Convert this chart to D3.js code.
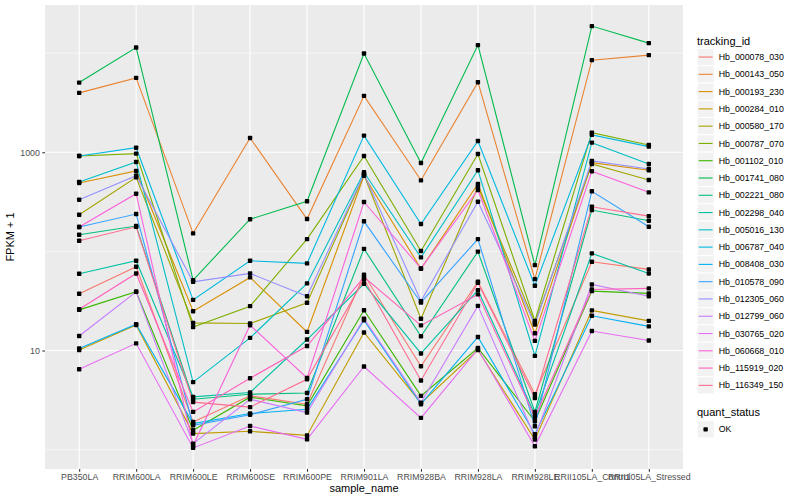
<!DOCTYPE html>
<html>
<head>
<meta charset="utf-8">
<script src="https://cdn.jsdelivr.net/npm/d3@7"></script>
<style>
  html, body { margin: 0; padding: 0; background: #ffffff; }
  svg text { font-family: "Liberation Sans", Arial, Helvetica, sans-serif; }
</style>
</head>
<body>
<svg id="chart" width="800" height="500"></svg>
<script>
// ---------- data ----------
const categories = ["PB350LA","RRIM600LA","RRIM600LE","RRIM600SE","RRIM600PE","RRIM901LA",
  "RRIM928BA","RRIM928LA","RRIM928LE","RRII105LA_Control","RRII105LA_Stressed"];

const trackingIds = ["Hb_000078_030","Hb_000143_050","Hb_000193_230","Hb_000284_010","Hb_000580_170",
  "Hb_000787_070","Hb_001102_010","Hb_001741_080","Hb_002221_080","Hb_002298_040","Hb_005016_130",
  "Hb_006787_040","Hb_008408_030","Hb_010578_090","Hb_012305_060","Hb_012799_060","Hb_030765_020",
  "Hb_060668_010","Hb_115919_020","Hb_116349_150"];

// FPKM + 1, one value per sample (same order as categories)
const hb_000078_030 = [37.3, 69.9, 1.90, 3.49, 2.87, 58.0, 6.94, 49.3, 3.62, 78.5, 65.8];
const hb_000143_050 = [3972, 5630, 152, 1394, 212, 3705, 521, 5093, 52.5, 8497, 9550];
const hb_000193_230 = [490, 647, 24.9, 54.6, 15.4, 580, 66.7, 478, 14.9, 785, 658];
const hb_000284_010 = [10.1, 18.1, 1.45, 1.53, 1.39, 15.2, 2.94, 10.1, 1.26, 25.4, 19.9];
const hb_000580_170 = [234, 559, 19.0, 18.7, 30.3, 590, 20.9, 446, 19.0, 762, 525];
const hb_000787_070 = [918, 968, 17.2, 28.0, 133, 918, 101, 961, 19.9, 1578, 1186];
const hb_001102_010 = [25.7, 39.1, 1.57, 3.38, 2.76, 25.5, 3.48, 10.6, 1.93, 39.7, 37.7];
const hb_001741_080 = [5047, 11400, 51.3, 211, 320, 9910, 780, 12050, 72.7, 18750, 12620];
const hb_002221_080 = [147, 180, 3.22, 3.62, 3.73, 106, 13.9, 99.5, 2.40, 261, 204];
const hb_002298_040 = [59.4, 80.4, 3.40, 3.77, 12.9, 47.1, 9.33, 40.6, 2.26, 95.4, 59.9];
const hb_005016_130 = [501, 798, 4.79, 13.4, 47.5, 628, 86.9, 658, 8.82, 1250, 762];
const hb_006787_040 = [918, 1112, 32.4, 80.4, 75.7, 1472, 189, 1300, 45.0, 1496, 1140];
const hb_008408_030 = [10.5, 18.4, 1.83, 2.31, 2.55, 20.2, 2.87, 13.7, 1.43, 22.4, 17.5];
const hb_010578_090 = [176, 238, 1.76, 2.25, 3.22, 201, 30.5, 133, 1.72, 404, 177];
const hb_012305_060 = [332, 580, 49.3, 59.9, 35.3, 604, 31.5, 317, 18.3, 817, 678];
const hb_012799_060 = [14.0, 39.1, 1.15, 3.22, 2.36, 20.9, 2.98, 28.2, 1.34, 46.4, 35.3];
const hb_030765_020 = [6.47, 11.8, 1.04, 1.73, 1.27, 6.89, 2.09, 10.3, 1.08, 15.7, 12.6];
const hb_060668_010 = [176, 382, 1.10, 18.0, 5.29, 315, 67.3, 416, 12.5, 643, 394];
const hb_115919_020 = [26.1, 59.9, 2.40, 5.25, 11.1, 55.0, 17.9, 36.8, 2.13, 41.3, 42.3];
const hb_116349_150 = [128, 177, 3.01, 2.68, 5.13, 52.1, 4.98, 48.2, 3.32, 282, 227];

const seriesValues = [hb_000078_030, hb_000143_050, hb_000193_230, hb_000284_010, hb_000580_170,
  hb_000787_070, hb_001102_010, hb_001741_080, hb_002221_080, hb_002298_040, hb_005016_130,
  hb_006787_040, hb_008408_030, hb_010578_090, hb_012305_060, hb_012799_060, hb_030765_020,
  hb_060668_010, hb_115919_020, hb_116349_150];

const yMajorTicks = [10, 1000];
const yMinorTicks = [1, 100, 10000];
const quantLevels = ["OK"];

// ---------- styles ----------
const palette = ["#F8766D","#EA8331","#D89000","#C09B00","#A3A500","#7CAE00","#39B600","#00BB4E",
  "#00BF7D","#00C1A3","#00BFC4","#00BAE0","#00B0F6","#35A2FF","#9590FF","#C77CFF","#E76BF3",
  "#FA62DB","#FF62BC","#FF6C91"];

const series = trackingIds.map((id, i) => ({
  id, color: palette[i],
  points: categories.map((c, j) => ({ cat: c, v: seriesValues[i][j] }))
}));

// ---------- layout ----------
const svg = d3.select("#chart");
const panel = { left: 45, right: 683, top: 5, bottom: 469 };

const x = d3.scalePoint().domain(categories).range([panel.left, panel.right]).padding(0.6);

const allVals = seriesValues.flat();
const lmin = Math.log10(d3.min(allVals)), lmax = Math.log10(d3.max(allVals));
const ex = (lmax - lmin) * 0.05;
const y = d3.scaleLog().domain([Math.pow(10, lmin - ex), Math.pow(10, lmax + ex)])
  .range([panel.bottom, panel.top]);

// panel background
svg.append("rect").attr("x", panel.left).attr("y", panel.top)
  .attr("width", panel.right - panel.left).attr("height", panel.bottom - panel.top)
  .attr("fill", "#EBEBEB");

const grid = svg.append("g");
grid.selectAll("line.minor").data(yMinorTicks).join("line")
  .attr("x1", panel.left).attr("x2", panel.right)
  .attr("y1", d => y(d)).attr("y2", d => y(d))
  .attr("stroke", "#ffffff").attr("stroke-width", 0.55);
grid.selectAll("line.majy").data(yMajorTicks).join("line")
  .attr("x1", panel.left).attr("x2", panel.right)
  .attr("y1", d => y(d)).attr("y2", d => y(d))
  .attr("stroke", "#ffffff").attr("stroke-width", 1.1);
grid.selectAll("line.majx").data(categories).join("line")
  .attr("x1", d => x(d)).attr("x2", d => x(d))
  .attr("y1", panel.top).attr("y2", panel.bottom)
  .attr("stroke", "#ffffff").attr("stroke-width", 1.1);

// lines
const line = d3.line().x(d => x(d.cat)).y(d => y(d.v));
svg.append("g").selectAll("path").data(series).join("path")
  .attr("d", d => line(d.points))
  .attr("fill", "none").attr("stroke", d => d.color).attr("stroke-width", 1.1);

// points
const pts = series.flatMap(s => s.points);
const ps = 4.4;
svg.append("g").selectAll("rect").data(pts).join("rect")
  .attr("x", d => x(d.cat) - ps / 2).attr("y", d => y(d.v) - ps / 2)
  .attr("width", ps).attr("height", ps).attr("rx", 0.8)
  .attr("fill", "#000000");

// axes
const xAxis = svg.append("g").attr("transform", `translate(0,${panel.bottom})`)
  .call(d3.axisBottom(x).tickSize(2.7).tickPadding(2.5));
xAxis.select(".domain").remove();
xAxis.selectAll(".tick line").attr("stroke", "#333333").attr("stroke-width", 1.07);
xAxis.selectAll(".tick text").attr("fill", "#4D4D4D").attr("font-size", "8.8px");

const yAxis = svg.append("g").attr("transform", `translate(${panel.left},0)`)
  .call(d3.axisLeft(y).tickValues(yMajorTicks).tickFormat(d3.format("d")).tickSize(2.7).tickPadding(2.5));
yAxis.select(".domain").remove();
yAxis.selectAll(".tick line").attr("stroke", "#333333").attr("stroke-width", 1.07);
yAxis.selectAll(".tick text").attr("fill", "#4D4D4D").attr("font-size", "8.8px");

svg.append("text").attr("x", (panel.left + panel.right) / 2).attr("y", 492)
  .attr("text-anchor", "middle").attr("font-size", "11px").attr("fill", "#000")
  .text("sample_name");
svg.append("text").attr("transform", `translate(14,${(panel.top + panel.bottom) / 2}) rotate(-90)`)
  .attr("text-anchor", "middle").attr("font-size", "11px").attr("fill", "#000")
  .text("FPKM + 1");

// legend: tracking_id
const lg = svg.append("g");
const lgx = 697, key = 17.28, firstKeyTop = 48.4;
lg.append("text").attr("x", lgx).attr("y", 44.5).attr("font-size", "11px").text("tracking_id");
const items = lg.selectAll("g.item").data(series).join("g")
  .attr("transform", (d, i) => `translate(${lgx},${firstKeyTop + i * key})`);
items.append("rect").attr("width", key).attr("height", key)
  .attr("fill", "#F2F2F2").attr("stroke", "#ffffff").attr("stroke-width", 1);
items.append("line").attr("x1", 1.7).attr("x2", key - 1.7)
  .attr("y1", key / 2).attr("y2", key / 2)
  .attr("stroke", d => d.color).attr("stroke-width", 1.1);
items.append("text").attr("x", key + 4.5).attr("y", key / 2 + 3.1)
  .attr("font-size", "8.8px").attr("fill", "#000").text(d => d.id);

// legend: quant_status
const qTop = 420.7;
lg.append("text").attr("x", lgx).attr("y", 416).attr("font-size", "11px").text("quant_status");
const qi = lg.selectAll("g.q").data(quantLevels).join("g")
  .attr("transform", (d, i) => `translate(${lgx},${qTop + i * key})`);
qi.append("rect").attr("width", key).attr("height", key)
  .attr("fill", "#F2F2F2").attr("stroke", "#ffffff").attr("stroke-width", 1);
qi.append("rect").attr("x", key / 2 - ps / 2).attr("y", key / 2 - ps / 2)
  .attr("width", ps).attr("height", ps).attr("rx", 0.8).attr("fill", "#000");
qi.append("text").attr("x", key + 4.5).attr("y", key / 2 + 3.1)
  .attr("font-size", "8.8px").attr("fill", "#000").text(d => d);
</script>
</body>
</html>
